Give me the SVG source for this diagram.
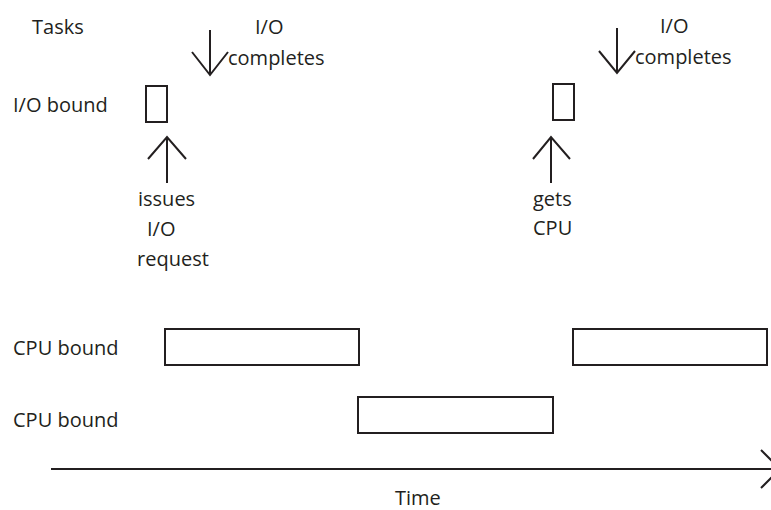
<svg xmlns="http://www.w3.org/2000/svg" width="771" height="510" viewBox="0 0 771 510">
<style>
text{font-family:"Open Sans","Liberation Sans",sans-serif;font-size:20px;fill:#231f20}
.box{fill:none;stroke:#231f20;stroke-width:2}
.ln{fill:none;stroke:#231f20;stroke-width:2}
</style>
<rect width="771" height="510" fill="#fff"/>
<g id="labels">
<text x="32" y="34">Tasks</text>
<text x="13" y="112">I/O bound</text>
<text x="13" y="355">CPU bound</text>
<text x="13" y="427">CPU bound</text>
<text x="395" y="505">Time</text>
</g>
<g id="io-task-1"><rect class="box" x="146" y="86" width="21" height="36"/></g>
<g id="io-task-2"><rect class="box" x="553" y="84" width="21" height="36"/></g>
<g id="cpu-task-1a"><rect class="box" x="165" y="329" width="194" height="36"/></g>
<g id="cpu-task-1b"><rect class="box" x="573" y="329" width="194" height="36"/></g>
<g id="cpu-task-2"><rect class="box" x="358" y="397" width="195" height="36"/></g>
<g id="annot-1">
<text x="255" y="34">I/O</text>
<text x="228" y="65">completes</text>
</g>
<g id="annot-2">
<text x="138" y="206">issues</text>
<text x="147" y="236">I/O</text>
<text x="137" y="266">request</text>
</g>
<g id="annot-3">
<text x="660" y="33">I/O</text>
<text x="635" y="64">completes</text>
</g>
<g id="annot-4">
<text x="533" y="206">gets</text>
<text x="533" y="235">CPU</text>
</g>
<g id="connectors">
<path class="ln" d="M210 30V75M192 52L210 75L228 52"/>
<path class="ln" d="M617 28V73M599 51L617 73L635 51"/>
<path class="ln" d="M167 183V137M148 159L167 137L186 159"/>
<path class="ln" d="M551 183V137M533 159L551 137L570 159"/>
<path class="ln" d="M51 469H780M761 450L780 469L761 488"/>
</g>
</svg>
